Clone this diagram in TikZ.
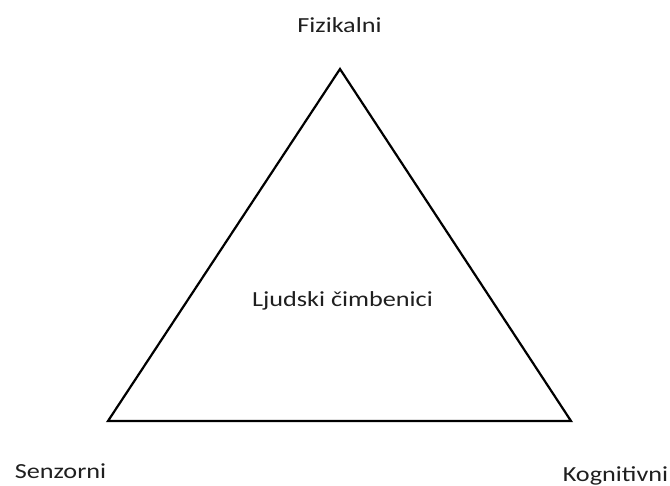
\documentclass[tikz,border=0pt]{standalone}
\usepackage{fontspec}
\setmainfont{Carlito}[FakeStretch=1.22]
\begin{document}
\begin{tikzpicture}[x=1pt,y=1pt,
  lbl/.style={anchor=base,inner sep=0pt,font=\fontsize{21.5}{25}\selectfont,text=black!88}]
\useasboundingbox (0,0) rectangle (670,486);
\coordinate (top) at (340,417);
\coordinate (bl) at (108,65);
\coordinate (br) at (571,65);
\draw[line width=2.2pt,line join=miter] (top) -- (br) -- (bl) -- cycle;
\node[lbl] (fiz) at (339.5,453) {Fizikalni};
\node[lbl] (lj) at (342.5,179) {Ljudski čimbenici};
\node[lbl] (sen) at (60.5,7) {Senzorni};
\node[lbl] (kog) at (615.5,4) {Kognitivni};
\end{tikzpicture}
\end{document}
